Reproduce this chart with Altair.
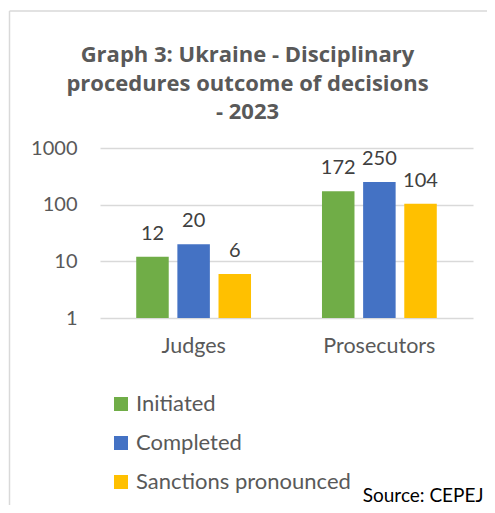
import altair as alt
import pandas as pd

groups = ["Judges", "Prosecutors"]
series = ["Initiated", "Completed", "Sanctions pronounced"]
initiated = [12, 172]
completed = [20, 250]
sanctions = [6, 104]
colors = ["#70AD47", "#4472C4", "#FFC000"]
y_ticks = [1, 10, 100, 1000]

rows = []
for i, g in enumerate(groups):
    for s, vals in zip(series, [initiated, completed, sanctions]):
        rows.append({"group": g, "series": s, "value": vals[i]})
df = pd.DataFrame(rows)

FONT = "Lato"
GREY = "#595959"

base = alt.Chart(df).encode(
    x=alt.X(
        "group:N",
        sort=groups,
        scale=alt.Scale(paddingInner=0.382, paddingOuter=0.195),
        axis=alt.Axis(
            title="Source: CEPEJ",
            titleX=383,
            titleY=183,
            titleAlign="right",
            titleBaseline="alphabetic",
            titleFont=FONT,
            titleFontSize=19,
            titleFontWeight="normal",
            titleColor="#000000",
            labelFont=FONT,
            labelFontSize=21.5,
            labelColor=GREY,
            labelAngle=0,
            labelPadding=17,
            domain=False,
            ticks=False,
        ),
    ),
    xOffset=alt.XOffset(
        "series:N", sort=series, scale=alt.Scale(paddingInner=0.21, paddingOuter=0)
    ),
)

bars = base.mark_bar().encode(
    y=alt.Y(
        "value:Q",
        scale=alt.Scale(type="log", domain=[1, 1000]),
        axis=alt.Axis(
            title=None,
            values=y_ticks,
            format="d",
            labelFont=FONT,
            labelFontSize=20,
            labelColor=GREY,
            labelPadding=23,
            domain=False,
            ticks=False,
            gridColor="#D9D9D9",
            gridWidth=1.5,
        ),
    ),
    y2=alt.datum(1),
    color=alt.Color(
        "series:N",
        scale=alt.Scale(domain=series, range=colors),
        legend=alt.Legend(
            title=None,
            orient="none",
            legendX=10,
            legendY=245,
            direction="vertical",
            symbolType="square",
            symbolSize=196,
            symbolStrokeWidth=0,
            labelFont=FONT,
            labelFontSize=22,
            labelColor=GREY,
            labelOffset=4,
            labelLimit=400,
            rowPadding=17,
            padding=0,
        ),
    ),
)

labels = base.mark_text(
    baseline="alphabetic", dy=-17, font=FONT, fontSize=20, color="#404040"
).encode(y=alt.Y("value:Q"), text=alt.Text("value:Q"))

deco = alt.Chart(alt.Data(values=[{"a": 1}]))
left_border = deco.mark_rule(color="#D9D9D9", strokeWidth=1.5).encode(
    x=alt.value(-90.5), y=alt.value(-137), y2=alt.value(400)
)
top_border = deco.mark_rule(color="#D9D9D9", strokeWidth=1.5).encode(
    x=alt.value(-90.5), x2=alt.value(420), y=alt.value(-137)
)

chart = (
    alt.layer(left_border, top_border, bars, labels)
    .properties(
        width=373,
        height=170,
        autosize=alt.AutoSizeParams(type="none"),
        padding={"left": 92, "top": 140, "right": 14, "bottom": 187},
        title=alt.Title(
            ["Graph 3: Ukraine - Disciplinary", "procedures outcome of decisions", "- 2023"],
            font="Open Sans",
            fontSize=22,
            fontWeight="bold",
            color=GREY,
            lineHeight=28.5,
            anchor="middle",
            baseline="alphabetic",
            dx=-39,
            dy=131,
            offset=0,
        ),
    )
    .configure_view(stroke=None)
)

chart.save("out.html", embed_options={"renderer": "svg", "actions": False})
